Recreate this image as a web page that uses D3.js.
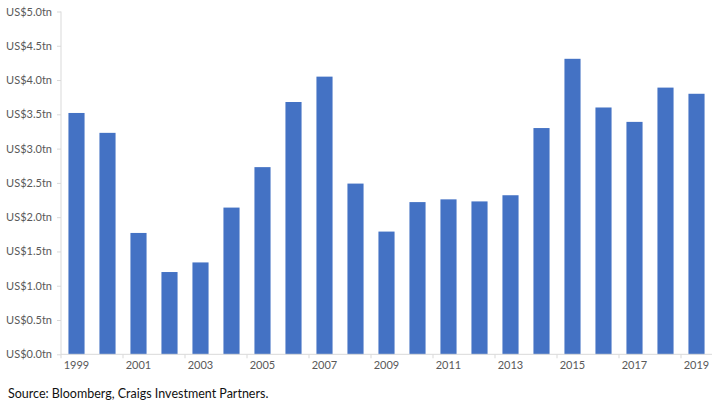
<!DOCTYPE html>
<html><head><meta charset="utf-8">
<script src="https://cdn.jsdelivr.net/npm/d3@7"></script>
<style>body{margin:0;background:#fff;}svg{display:block;}</style>
</head><body>
<svg id="c" width="720" height="411"></svg>
<script>
const years = ["1999","2000","2001","2002","2003","2004","2005","2006","2007","2008","2009","2010","2011","2012","2013","2014","2015","2016","2017","2018","2019"];
const values = [3.52,3.23,1.77,1.20,1.34,2.14,2.73,3.68,4.05,2.49,1.79,2.22,2.26,2.23,2.32,3.30,4.31,3.60,3.39,3.89,3.80];
const yTicks = [0,0.5,1.0,1.5,2.0,2.5,3.0,3.5,4.0,4.5,5.0];
const source = "Source: Bloomberg, Craigs Investment Partners.";

const svg = d3.select("#c");
const mLeft = 61, mRight = 712, mTop = 11.5, mBottom = 354.3;
const x = d3.scaleBand().domain(years).range([mLeft, mRight]).paddingInner(0.48).paddingOuter(0.24);
const y = d3.scaleLinear().domain([0,5]).range([mBottom, mTop]);
const font = "Lato, 'Open Sans', sans-serif";
const axisColor = "#d9d9d9";

// bars
svg.append("g").selectAll("rect").data(values).join("rect")
  .attr("x", (d,i)=>x(years[i])).attr("width", x.bandwidth())
  .attr("y", d=>y(d)).attr("height", d=>y(0)-y(d))
  .attr("fill", "#4472c4");

// y axis
const ya = svg.append("g").attr("transform", `translate(${mLeft},0)`)
  .call(d3.axisLeft(y).tickValues(yTicks).tickSize(4).tickPadding(5).tickFormat(d=>"US$"+d.toFixed(1)+"tn"));
ya.select(".domain").attr("stroke", axisColor).attr("d", `M0,${mTop}V${mBottom}`);
ya.selectAll(".tick line").attr("stroke", axisColor);
ya.selectAll(".tick text").attr("fill","#595959").style("font-family",font).style("font-size","11px");

// x axis
const step = x.step();
const xa = svg.append("g").attr("transform", `translate(0,${mBottom})`)
  .call(d3.axisBottom(x).tickValues(years.filter((d,i)=>i%2===0)).tickSize(0).tickPadding(7));
xa.select(".domain").attr("stroke", axisColor).attr("d", `M${mLeft},0H${mRight}`);
xa.selectAll(".tick text").attr("fill","#595959").style("font-family",font).style("font-size","11px");
// boundary ticks every two categories
const bounds = d3.range(0, years.length+1, 2).map(i=>mLeft + i*step);
svg.append("g").selectAll("line").data(bounds).join("line")
  .attr("x1", d=>d).attr("x2", d=>d).attr("y1", mBottom).attr("y2", mBottom+4)
  .attr("stroke", axisColor);

svg.append("text").attr("x", 8).attr("y", 398).text(source)
  .attr("fill","#111").style("font-family",font).style("font-size","12.5px");
</script>
</body></html>
